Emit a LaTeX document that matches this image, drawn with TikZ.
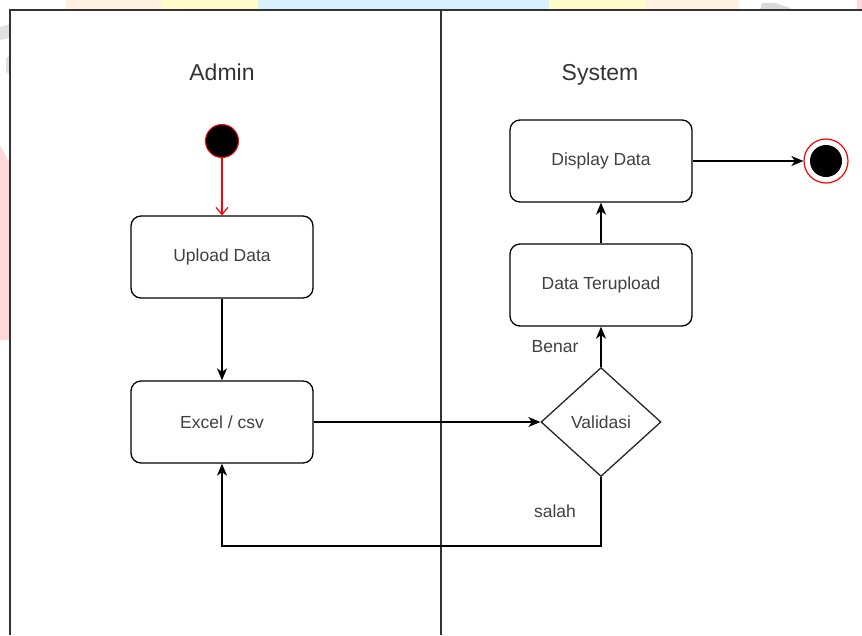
\documentclass[tikz,border=0pt]{standalone}
\usepackage{fontspec}
\setmainfont{Liberation Sans}
\usetikzlibrary{arrows.meta,shapes.geometric}

\tikzset{
  lane/.style={draw=black!80, line width=1.3pt},
  actbox/.style={draw=black, line width=1.3pt, rounded corners=10pt, fill=white,
    minimum width=182pt, minimum height=82pt, inner sep=0pt, font=\fontsize{17.5}{20}\selectfont, text=black!75},
  decision/.style={draw=black!85, line width=1.3pt, diamond, fill=white, aspect=1.1,
    minimum width=120pt, minimum height=109pt, inner sep=0pt, font=\fontsize{17.5}{20}\selectfont, text=black!75},
  flow/.style={draw=black, line width=1.4pt, -{Stealth[length=12pt,width=10pt,inset=3.5pt]}},
  startflow/.style={draw=red, line width=1.2pt, -{Straight Barb[length=7pt,width=12pt]}},
  lanetitle/.style={font=\fontsize{23}{26}\selectfont, text=black!80, anchor=base},
  guard/.style={font=\fontsize{17.5}{20}\selectfont, text=black!75, anchor=base},
}

\begin{document}
\begin{tikzpicture}[x=1pt,y=-1pt]
\useasboundingbox (0,0) rectangle (862,635);
\fill[white] (0,0) rectangle (862,635);

% faint coloured strip behind the frame
\fill[orange!12] (66,0) rectangle (162,10);
\fill[yellow!20] (162,0) rectangle (258,10);
\fill[blue!40!cyan!15] (258,0) rectangle (549,10);
\fill[yellow!20] (549,0) rectangle (645,10);
\fill[orange!12] (645,0) rectangle (739,10);
\fill[black!15] (762,3) -- (775,3) -- (790,8) -- (790,10) -- (760,10) -- cycle;
\fill[red!15] (857,0) rectangle (862,10);
\fill[red!15] (0,145) -- (8,160) -- (10,160) -- (10,340) -- (0,340) -- cycle;
\fill[black!12] (0,27) -- (10,24) -- (10,38) -- (0,40) -- cycle;
\fill[black!12] (6,58) -- (10,56) -- (10,74) -- (6,72) -- cycle;

% swimlanes
\draw[lane] (862,10) -- (10,10) -- (10,635);
\draw[lane] (441,10) -- (441,635);
\node[lanetitle] (admin) at (222,80) {Admin};
\node[lanetitle] (system) at (600,80) {System};

% activity nodes
\node[circle, fill=black, draw=red, line width=1pt, minimum size=33pt, inner sep=0pt] (start) at (222,141) {};
\node[actbox] (upload) at (222,257) {Upload Data};
\node[actbox] (excel) at (222,422) {Excel / csv};
\node[decision] (valid) at (601,422) {Validasi};
\node[actbox] (uploaded) at (601,285) {Data Terupload};
\node[actbox] (display) at (601,161) {Display Data};
\node[circle, draw=red, line width=1.2pt, fill=white, minimum size=44pt, inner sep=0pt] (final) at (826,161) {};
\node[circle, fill=black, minimum size=32pt, inner sep=0pt] (finaldot) at (826,161) {};
\coordinate (loopR) at (601,546);
\coordinate (loopL) at (222,546);

% flows
\draw[startflow] (start) -- (upload);
\draw[flow] (upload) -- (excel);
\draw[flow] (excel) -- (valid.west);
\draw[flow] (valid.south) -- (loopR) -- (loopL) -- (excel.south);
\draw[flow] (valid.north) -- (uploaded);
\draw[flow] (uploaded) -- (display);
\draw[flow] (display) -- (final.west);

% guards
\node[guard] (benar) at (555,352) {Benar};
\node[guard] (salah) at (555,517) {salah};
\end{tikzpicture}
\end{document}
